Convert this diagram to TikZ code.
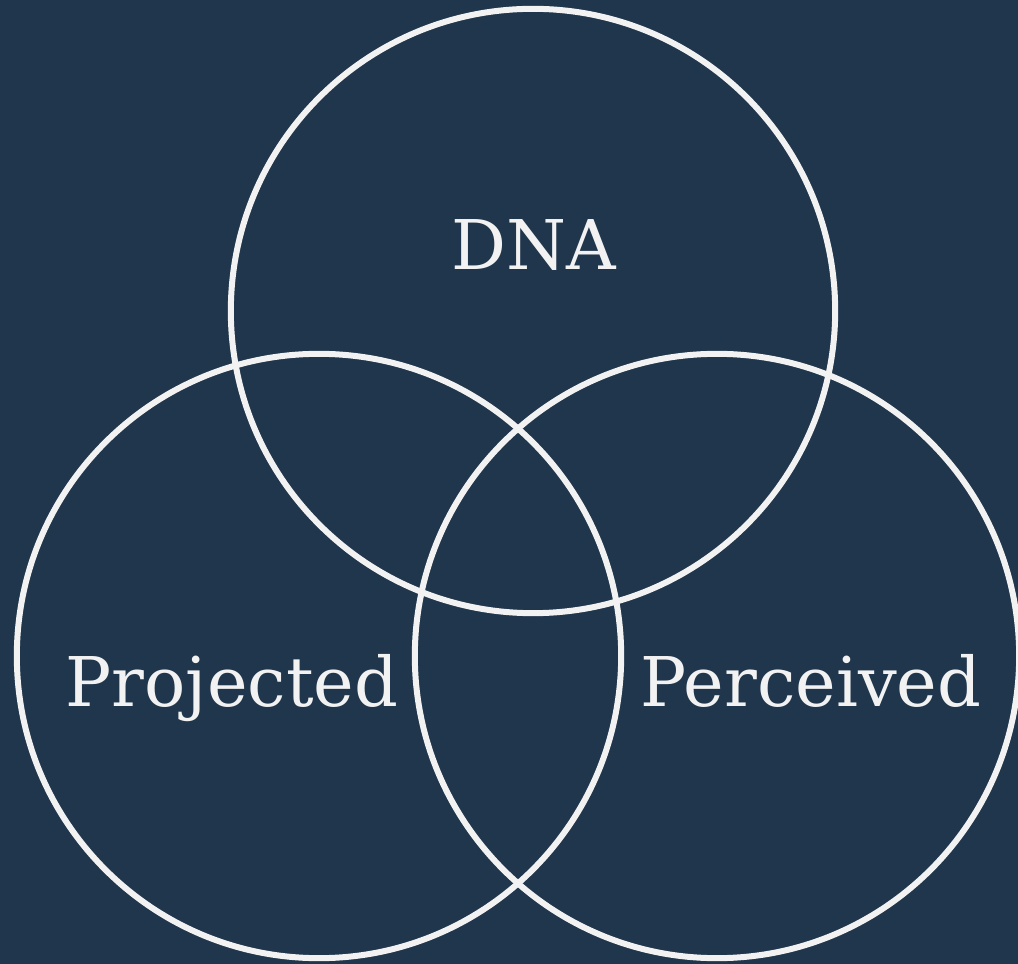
\documentclass[tikz,border=0pt]{standalone}
\usepackage{fontspec}
\setmainfont{DejaVu Serif}
\usepackage{tikz}
\usetikzlibrary{positioning}
\usepackage{xcolor}
\definecolor{navybg}{RGB}{32,54,76}
\definecolor{ringwhite}{RGB}{242,242,242}

\begin{document}
\begin{tikzpicture}[
    x=0.01cm, y=-0.01cm,
    ring/.style={circle, draw=ringwhite, line width=0.06cm, minimum size=6.04cm, inner sep=0pt},
    label/.style={text=ringwhite, anchor=base, inner sep=0pt, font=\fontsize{19.5}{22}\selectfont},
]
    % Background
    \fill[navybg] (0,0) rectangle (1018,964);
    \useasboundingbox (0,0) rectangle (1018,964);

    % Circles
    \node[ring] (dnaring) at (533,311) {};
    \node[ring] (projring) at (319,656) {};
    \node[ring] (percring) at (717,656) {};

    % Labels
    \node[label] (dna) at (534,270) {DNA};
    \node[label] (projected) at (232,706) {Projected};
    \node[label] (perceived) at (811,706) {Perceived};

\end{tikzpicture}
\end{document}
